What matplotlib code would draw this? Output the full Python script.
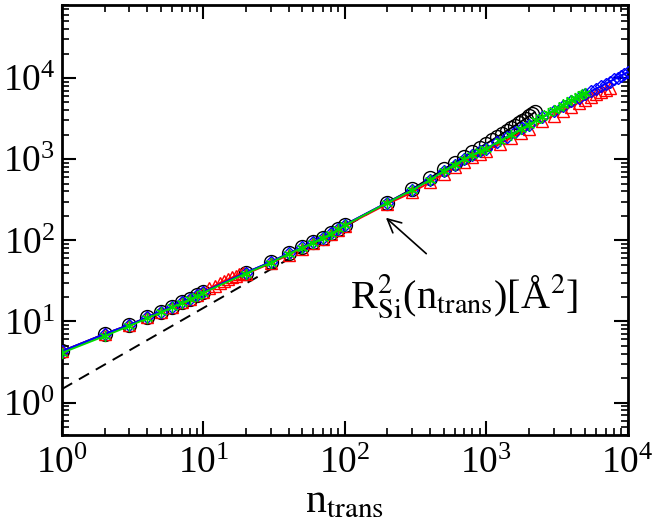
import numpy as np
import matplotlib
matplotlib.use('Agg')
import matplotlib.pyplot as plt
from matplotlib.ticker import LogLocator, NullFormatter

plt.rcParams['font.family'] = ['Liberation Serif', 'DejaVu Serif']
plt.rcParams['mathtext.fontset'] = 'stix'

# common part of the curves (n <= 200)
n_low = [1, 2, 3, 4, 5, 6, 7, 8, 9, 10, 20, 30, 40, 50, 60, 70, 80, 90, 100, 200]
r_low = [4.3, 7.0, 9.1, 11.2, 13.2, 15.2, 17.2, 19.0, 21.0, 23.0, 40, 54, 69, 82, 95, 108, 122, 138, 155, 292]

# black circles
n_black = n_low + [300, 400, 500, 600, 700, 800, 900, 1000, 1100, 1200, 1300, 1400, 1500,
                   1600, 1700, 1800, 1900, 2000, 2100, 2200]
r_black = r_low + [430, 585, 750, 910, 1070, 1230, 1390, 1550, 1720, 1890, 2060, 2240, 2420,
                   2600, 2790, 2980, 3170, 3370, 3570, 3780]

# red triangles
n_red = n_low[:10] + [11, 12, 13, 14, 15, 16, 17, 18, 19] + n_low[10:] + \
    [300, 400, 500, 600, 700, 800, 900, 1000, 1250, 1500, 1750, 2000, 2500, 3000, 3500,
     4000, 4500, 5000, 5500, 6000, 6500, 7000, 7500]
r_red = r_low[:10] + [25.5, 27.6, 29.7, 31.6, 33.4, 35.0, 36.6, 38.0, 39.4] + \
    [38.5, 52, 66, 79, 92, 105, 118, 133, 150, 280] + \
    [390, 520, 660, 800, 930, 1050, 1170, 1260, 1550, 1830, 2100, 2380, 2920, 3450, 3950,
     4450, 4950, 5420, 5880, 6330, 6770, 7200, 7600]

# green stars
n_green = n_low + [300, 400, 500, 600, 700, 800, 900, 1000, 1250, 1500, 1750, 2000, 2250, 2500,
                   2750, 3000, 3250, 3500, 3750, 4000, 4250, 4500, 4750, 5000]
r_green = [4.1, 6.6, 8.8, 10.9, 12.9, 14.9, 16.8, 18.7, 20.6, 22.6, 39, 53, 68, 81, 94, 107, 121, 136, 153, 290] + \
    [415, 555, 715, 860, 1000, 1130, 1250, 1350, 1680, 2010, 2340, 2670, 3000, 3330,
     3660, 4000, 4330, 4660, 5000, 5330, 5650, 5980, 6300, 6620]

# blue diamonds
n_blue = n_low + [300, 400, 500, 600, 700, 800, 900, 1000, 1200, 1400, 1600, 1800, 2000, 2500,
                  3000, 3500, 4000, 4500, 5000, 5500, 6000, 6500, 7000, 7500, 8000, 8500, 9000,
                  9500, 10000]
r_blue = r_low + [417, 557, 720, 860, 1000, 1130, 1250, 1340, 1620, 1890, 2150, 2400, 2650, 3300,
                  3950, 4550, 5150, 5750, 6300, 6850, 7400, 7950, 8500, 9050, 9600, 10150, 10700,
                  11250, 11800]

# dashed reference line
n_dash = [1, 150]
r_dash = [1.47, 220]

fig = plt.figure(figsize=(6.53, 5.31), dpi=100)
ax = fig.add_axes([0.095, 0.181, 0.866, 0.81])

ax.plot(n_dash, r_dash, 'k--', lw=1.4, dashes=(6, 4), zorder=1)
ax.plot(n_black, r_black, color='black', lw=1.3, marker='o', ms=10, mfc='none', mew=1.0, zorder=2)
ax.plot(n_red, r_red, color='red', lw=1.3, marker='^', ms=8, mfc='none', mew=1.0, zorder=3)
ax.plot(n_blue, r_blue, color='blue', lw=1.5, marker='D', ms=6.5, mfc='none', mew=1.0, zorder=4)
ax.plot(n_green, r_green, color='#00dd00', lw=1.3, marker=(6, 2, 0), ms=8, mew=1.0, zorder=5)

ax.set_xscale('log')
ax.set_yscale('log')
ax.set_xlim(1, 1e4)
ax.set_ylim(0.4, 8e4)

for s in ax.spines.values():
    s.set_linewidth(2)

ax.xaxis.set_major_locator(LogLocator(base=10, numticks=10))
ax.xaxis.set_minor_locator(LogLocator(base=10, subs=np.arange(2, 10), numticks=20))
ax.yaxis.set_major_locator(LogLocator(base=10, numticks=10))
ax.yaxis.set_minor_locator(LogLocator(base=10, subs=np.arange(2, 10), numticks=20))
ax.xaxis.set_minor_formatter(NullFormatter())
ax.yaxis.set_minor_formatter(NullFormatter())
ax.tick_params(which='both', direction='in', top=True, right=True, labelsize=27)
ax.tick_params(which='major', length=10, width=1.5)
ax.tick_params(which='minor', length=5, width=1.2)
ax.tick_params(axis='x', pad=8)
ax.tick_params(axis='y', pad=5)

ax.set_xlabel(r'n$_{\mathrm{trans}}$', fontsize=30, labelpad=2)

ax.annotate('', xy=(189, 200), xytext=(390, 65),
            arrowprops=dict(arrowstyle='->', color='black', lw=1.2, mutation_scale=24))
ax.text(700, 20, r'R$_{\mathrm{Si}}^{2}$(n$_{\mathrm{trans}}$)[Å$^{2}$]', fontsize=29,
        ha='center', va='center')

fig.savefig('out.png', dpi=100)
